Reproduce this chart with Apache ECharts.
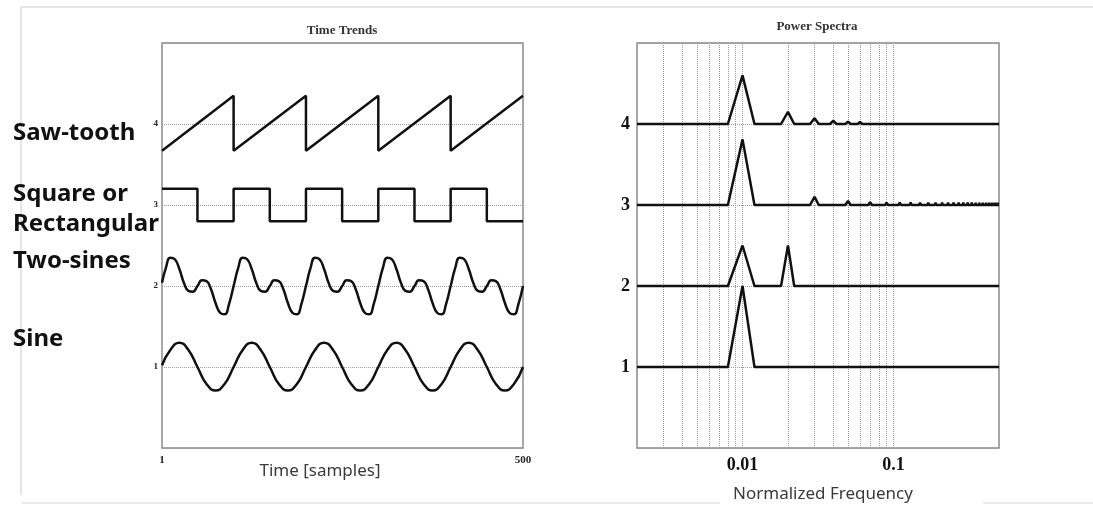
<!DOCTYPE html>
<html>
<head>
<meta charset="utf-8">
<script src="https://cdn.jsdelivr.net/npm/echarts@6/dist/echarts.min.js"></script>
<style>
  html, body { margin: 0; padding: 0; background: #fff; }
  #chart { width: 1093px; height: 505px; }
</style>
</head>
<body>
<div id="chart"></div>
<script>
// ---- time trends (left panel) ----
let tSine = [1, 12.5, 25, 37.5, 50, 62.5, 75, 87.5, 100,
  112.5, 125, 137.5, 150, 162.5, 175, 187.5, 200,
  212.5, 225, 237.5, 250, 262.5, 275, 287.5, 300,
  312.5, 325, 337.5, 350, 362.5, 375, 387.5, 400,
  412.5, 425, 437.5, 450, 462.5, 475, 487.5, 500];
let sineValues = [1.02, 1.21, 1.30, 1.21, 1.00, 0.79, 0.71, 0.79, 1.00,
  1.21, 1.30, 1.21, 1.00, 0.79, 0.71, 0.79, 1.00,
  1.21, 1.30, 1.21, 1.00, 0.79, 0.71, 0.79, 1.00,
  1.21, 1.30, 1.21, 1.00, 0.79, 0.71, 0.79, 1.00,
  1.21, 1.30, 1.21, 1.00, 0.79, 0.71, 0.79, 1.00];

let tTwoSines = [1, 6.25, 12.5, 18.75, 25, 31.25, 37.5, 43.75, 50, 56.25, 62.5, 68.75, 75, 81.25, 87.5, 93.75, 100,
  106.25, 112.5, 118.75, 125, 131.25, 137.5, 143.75, 150, 156.25, 162.5, 168.75, 175, 181.25, 187.5, 193.75, 200,
  206.25, 212.5, 218.75, 225, 231.25, 237.5, 243.75, 250, 256.25, 262.5, 268.75, 275, 281.25, 287.5, 293.75, 300,
  306.25, 312.5, 318.75, 325, 331.25, 337.5, 343.75, 350, 356.25, 362.5, 368.75, 375, 381.25, 387.5, 393.75, 400,
  406.25, 412.5, 418.75, 425, 431.25, 437.5, 443.75, 450, 456.25, 462.5, 468.75, 475, 481.25, 487.5, 493.75, 500];
let twoSinesValues = [2.04,
  2.22, 2.35, 2.33, 2.21, 2.04, 1.94, 1.93, 2.00, 2.07, 2.06, 1.96, 1.79, 1.67, 1.65, 1.78, 2.00,
  2.22, 2.35, 2.33, 2.21, 2.04, 1.94, 1.93, 2.00, 2.07, 2.06, 1.96, 1.79, 1.67, 1.65, 1.78, 2.00,
  2.22, 2.35, 2.33, 2.21, 2.04, 1.94, 1.93, 2.00, 2.07, 2.06, 1.96, 1.79, 1.67, 1.65, 1.78, 2.00,
  2.22, 2.35, 2.33, 2.21, 2.04, 1.94, 1.93, 2.00, 2.07, 2.06, 1.96, 1.79, 1.67, 1.65, 1.78, 2.00,
  2.22, 2.35, 2.33, 2.21, 2.04, 1.94, 1.93, 2.00, 2.07, 2.06, 1.96, 1.79, 1.67, 1.65, 1.78, 2.00];

let tSquare = [1, 50, 50, 100, 100, 150, 150, 200, 200, 250, 250, 300, 300, 350, 350, 400, 400, 450, 450, 500];
let squareValues = [3.2, 3.2, 2.8, 2.8, 3.2, 3.2, 2.8, 2.8, 3.2, 3.2, 2.8, 2.8, 3.2, 3.2, 2.8, 2.8, 3.2, 3.2, 2.8, 2.8];

let tSaw = [1, 100, 100, 200, 200, 300, 300, 400, 400, 500];
let sawValues = [3.67, 4.35, 3.67, 4.35, 3.67, 4.35, 3.67, 4.35, 3.67, 4.35];

// ---- power spectra (right panel), [frequency, level] ----
let specSine = [[0.002, 1], [0.008, 1], [0.01, 2.0], [0.012, 1], [0.5, 1]];
let specTwoSines = [[0.002, 2], [0.008, 2], [0.01, 2.5], [0.012, 2], [0.018, 2], [0.02, 2.5], [0.022, 2], [0.5, 2]];
let specSquare = [[0.002, 3], [0.008, 3], [0.01, 3.81], [0.012, 3],
  [0.028, 3], [0.03, 3.10], [0.032, 3], [0.048, 3], [0.05, 3.05], [0.052, 3],
  [0.068, 3], [0.07, 3.035], [0.072, 3], [0.088, 3], [0.09, 3.03], [0.092, 3],
  [0.108, 3], [0.11, 3.03], [0.112, 3], [0.128, 3], [0.13, 3.03], [0.132, 3],
  [0.148, 3], [0.15, 3.03], [0.152, 3], [0.168, 3], [0.17, 3.03], [0.172, 3],
  [0.188, 3], [0.19, 3.03], [0.192, 3], [0.208, 3], [0.21, 3.03], [0.212, 3],
  [0.228, 3], [0.23, 3.03], [0.232, 3], [0.248, 3], [0.25, 3.03], [0.252, 3],
  [0.268, 3], [0.27, 3.03], [0.272, 3], [0.288, 3], [0.29, 3.03], [0.292, 3],
  [0.308, 3], [0.31, 3.03], [0.312, 3], [0.328, 3], [0.33, 3.03], [0.332, 3],
  [0.348, 3], [0.35, 3.03], [0.352, 3], [0.368, 3], [0.37, 3.03], [0.372, 3],
  [0.388, 3], [0.39, 3.03], [0.392, 3], [0.408, 3], [0.41, 3.03], [0.412, 3],
  [0.428, 3], [0.43, 3.03], [0.432, 3], [0.448, 3], [0.45, 3.03], [0.452, 3],
  [0.468, 3], [0.47, 3.03], [0.472, 3], [0.488, 3], [0.49, 3.03], [0.492, 3], [0.5, 3]];
let specSaw = [[0.002, 4], [0.008, 4], [0.01, 4.6], [0.012, 4], [0.018, 4], [0.02, 4.15], [0.022, 4],
  [0.028, 4], [0.03, 4.07], [0.032, 4], [0.038, 4], [0.04, 4.04], [0.042, 4],
  [0.048, 4], [0.05, 4.03], [0.052, 4], [0.058, 4], [0.06, 4.025], [0.062, 4],
  [0.068, 4], [0.07, 4.02], [0.072, 4], [0.078, 4], [0.08, 4.02], [0.082, 4],
  [0.088, 4], [0.09, 4.015], [0.092, 4], [0.098, 4], [0.1, 4.015], [0.102, 4], [0.5, 4]];

// dotted vertical grid of the log axis
let freqGrid = [0.003, 0.004, 0.005, 0.006, 0.007, 0.008, 0.009, 0.01,
  0.02, 0.03, 0.04, 0.05, 0.06, 0.07, 0.08, 0.09, 0.1];

let signalNames = ["Saw-tooth", "Square or", "Rectangular", "Two-sines", "Sine"];

const zip = (xs, ys) => xs.map((x, i) => [x, ys[i]]);

const serif = "'Liberation Serif', 'DejaVu Serif', serif";
const sans = "'Noto Sans', 'Open Sans', sans-serif";

const myChart = echarts.init(document.getElementById("chart"), null, { renderer: "canvas" });

let lineStyle = { color: "#111", width: 2.5 };

function trace(name, data, xi, smooth) {
  return {
    name, type: "line", data, xAxisIndex: xi, yAxisIndex: xi,
    showSymbol: false, smooth: smooth || false, lineStyle, z: 3,
    silent: true, animation: false
  };
}

let frameGrid = { show: true, borderColor: "#8a8a8a", borderWidth: 1.5, backgroundColor: "transparent" };
let dotted = { show: true, lineStyle: { type: "dotted", color: "#999", width: 1 } };

let option = {
  animation: false,
  grid: [
    { left: 162, top: 43, width: 361, height: 405, ...frameGrid },
    { left: 637, top: 43, width: 362, height: 405, ...frameGrid }
  ],
  xAxis: [
    {
      type: "value", gridIndex: 0, min: 1, max: 500, interval: 499,
      axisLine: { show: false }, axisTick: { show: false }, splitLine: { show: false },
      axisLabel: { fontFamily: serif, fontSize: 11, fontWeight: "bold", color: "#222", margin: 7 }
    },
    {
      type: "log", logBase: 10, gridIndex: 1, min: 0.002, max: 0.5,
      axisLine: { show: false }, axisTick: { show: false }, splitLine: { show: false },
      axisLabel: {
        fontFamily: serif, fontSize: 18, fontWeight: "bold", color: "#111", margin: 8,
        showMinLabel: false, showMaxLabel: false
      }
    }
  ],
  yAxis: [
    {
      type: "value", gridIndex: 0, min: 0, max: 5, interval: 1,
      axisLine: { show: false }, axisTick: { show: false }, splitLine: dotted,
      axisLabel: {
        fontFamily: serif, fontSize: 9, fontWeight: "bold", color: "#222", margin: 4,
        showMinLabel: false, showMaxLabel: false
      }
    },
    {
      type: "value", gridIndex: 1, min: 0, max: 5, interval: 1,
      axisLine: { show: false }, axisTick: { show: false }, splitLine: dotted,
      axisLabel: {
        fontFamily: serif, fontSize: 18, fontWeight: "bold", color: "#111", margin: 7,
        showMinLabel: false, showMaxLabel: false
      }
    }
  ],
  series: [
    trace("Saw-tooth", zip(tSaw, sawValues), 0),
    trace("Square", zip(tSquare, squareValues), 0),
    trace("Two-sines", zip(tTwoSines, twoSinesValues), 0, true),
    trace("Sine", zip(tSine, sineValues), 0, true),
    {
      // vertical dotted grid lines, from bottom (0) to top (5) of the panel
      type: "lines", coordinateSystem: "cartesian2d", xAxisIndex: 1, yAxisIndex: 1,
      z: 1, silent: true, animation: false,
      lineStyle: { type: "dotted", color: "#999", width: 1, opacity: 1 },
      data: freqGrid.map((f) => ({ coords: [[f, 0], [f, 5]] }))
    },
    trace("Saw-tooth spectrum", specSaw, 1),
    trace("Square spectrum", specSquare, 1),
    trace("Two-sines spectrum", specTwoSines, 1),
    trace("Sine spectrum", specSine, 1)
  ],
  graphic: [
    // faint slide frame
    { type: "line", shape: { x1: 21, y1: 7, x2: 1093, y2: 7 }, style: { stroke: "#dcdcdc", lineWidth: 1.5 }, silent: true },
    { type: "line", shape: { x1: 21, y1: 7, x2: 21, y2: 495 }, style: { stroke: "#dcdcdc", lineWidth: 1.5 }, silent: true },
    { type: "line", shape: { x1: 21, y1: 503, x2: 720, y2: 503 }, style: { stroke: "#e4e4e4", lineWidth: 1.5 }, silent: true },
    { type: "line", shape: { x1: 983, y1: 503, x2: 1093, y2: 503 }, style: { stroke: "#e4e4e4", lineWidth: 1.5 }, silent: true },
    // panel titles
    { type: "text", x: 342, y: 31, style: { text: "Time Trends", font: "bold 13px " + serif, fill: "#333", textAlign: "center", textVerticalAlign: "middle" } },
    { type: "text", x: 817, y: 27, style: { text: "Power Spectra", font: "bold 13px " + serif, fill: "#333", textAlign: "center", textVerticalAlign: "middle" } },
    // axis names
    { type: "text", x: 320, y: 471, style: { text: "Time [samples]", font: "17px " + sans, fill: "#3a3a3a", textAlign: "center", textVerticalAlign: "middle" } },
    { type: "text", x: 823, y: 494, style: { text: "Normalized Frequency", font: "17px " + sans, fill: "#3a3a3a", textAlign: "center", textVerticalAlign: "middle" } },
    // signal names
    { type: "text", x: 13, y: 133, style: { text: signalNames[0], font: "bold 24px " + sans, fill: "#111", textVerticalAlign: "middle" } },
    { type: "text", x: 13, y: 194, style: { text: signalNames[1], font: "bold 24px " + sans, fill: "#111", textVerticalAlign: "middle" } },
    { type: "text", x: 13, y: 224, style: { text: signalNames[2], font: "bold 24px " + sans, fill: "#111", textVerticalAlign: "middle" } },
    { type: "text", x: 13, y: 261, style: { text: signalNames[3], font: "bold 24px " + sans, fill: "#111", textVerticalAlign: "middle" } },
    { type: "text", x: 13, y: 339, style: { text: signalNames[4], font: "bold 24px " + sans, fill: "#111", textVerticalAlign: "middle" } }
  ]
};

option && myChart.setOption(option);
</script>
</body>
</html>
